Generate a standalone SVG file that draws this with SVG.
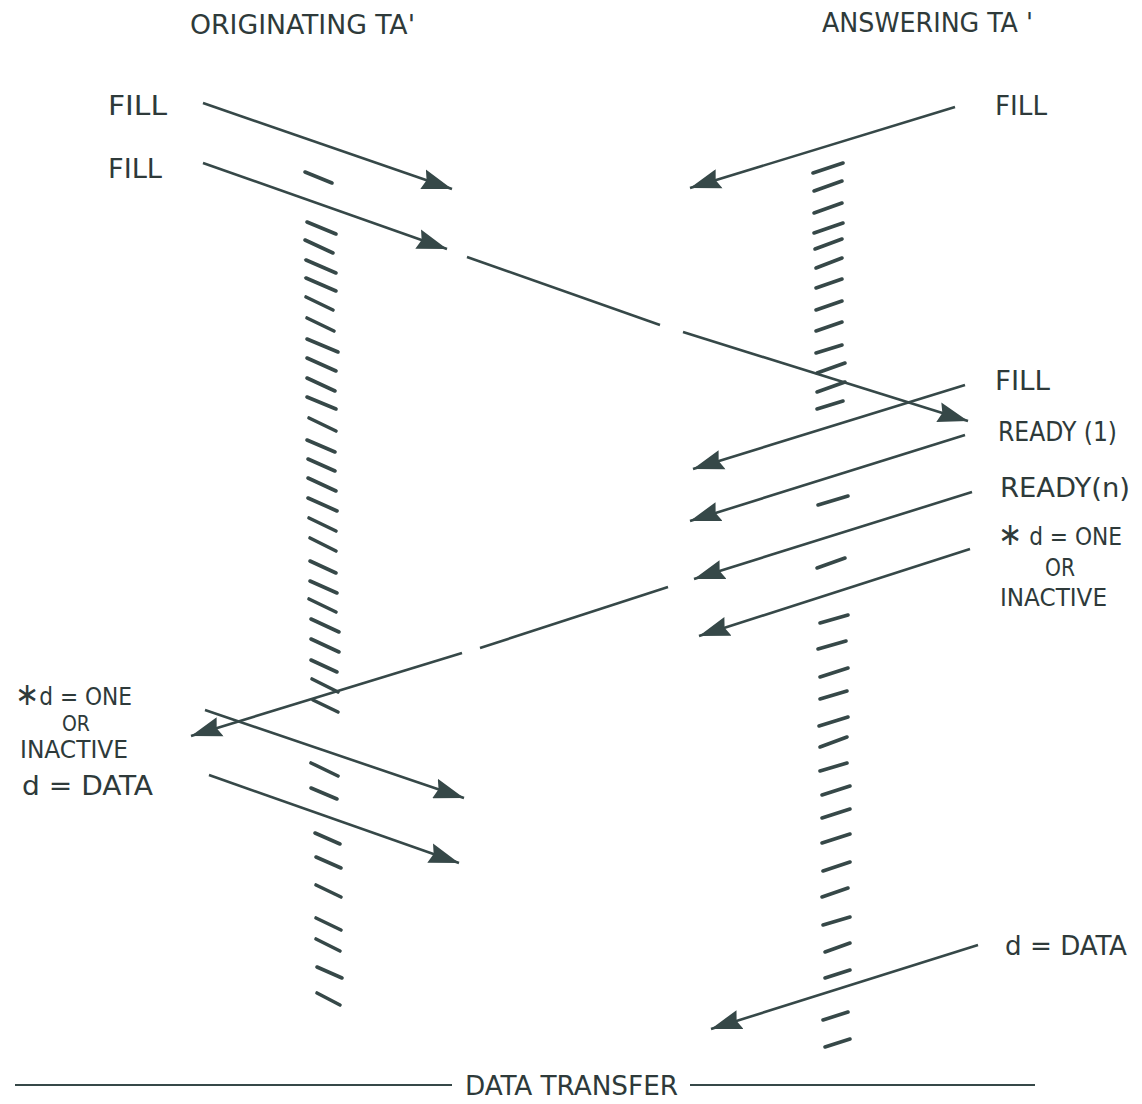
<svg xmlns="http://www.w3.org/2000/svg" width="1142" height="1104" viewBox="0 0 1142 1104">
  <style>
    .lbl { font-family: "DejaVu Sans Condensed", "Liberation Sans", sans-serif; font-size: 26px; fill: #2e3a3a; }
    .sm { font-size: 24px; }
    .xs { font-size: 21px; }
    .star { font-size: 32px; }
    .sig { stroke: #364848; stroke-width: 2.6; fill: none; marker-end: url(#head); }
    .seg { stroke: #364848; stroke-width: 2.6; fill: none; }
    .hatch line { stroke: #364848; stroke-width: 3.6; stroke-linecap: round; }
    .rule { stroke: #364848; stroke-width: 2; }
  </style>
  <defs>
    <marker id="head" viewBox="0 0 30 20" refX="30" refY="10" markerWidth="31" markerHeight="21" markerUnits="userSpaceOnUse" orient="auto">
      <path d="M0,0.5 L30,10 L1,20 L4,10 z" fill="#364848"/>
    </marker>
  </defs>

  <rect width="1142" height="1104" fill="#ffffff"/>

  <!-- column headings -->
  <g id="originating-ta">
    <text class="lbl" x="190" y="34" textLength="225" lengthAdjust="spacingAndGlyphs">ORIGINATING TA'</text>
  </g>
  <g id="answering-ta">
    <text class="lbl" x="822" y="32" textLength="211" lengthAdjust="spacingAndGlyphs">ANSWERING TA '</text>
  </g>

  <!-- hatched timeline of the originating TA -->
  <g id="originating-timeline" class="hatch">
    <line x1="305" y1="172" x2="332" y2="183"/>
    <line x1="307" y1="222" x2="336" y2="234"/>
    <line x1="305" y1="240" x2="333" y2="253"/>
    <line x1="306" y1="260" x2="336" y2="273"/>
    <line x1="306" y1="278" x2="336" y2="291"/>
    <line x1="306" y1="297" x2="333" y2="310"/>
    <line x1="307" y1="318" x2="334" y2="331"/>
    <line x1="307" y1="339" x2="338" y2="352"/>
    <line x1="307" y1="358" x2="336" y2="371"/>
    <line x1="307" y1="378" x2="335" y2="391"/>
    <line x1="307" y1="397" x2="336" y2="409"/>
    <line x1="309" y1="418" x2="336" y2="431"/>
    <line x1="307" y1="440" x2="335" y2="452"/>
    <line x1="308" y1="459" x2="335" y2="471"/>
    <line x1="308" y1="478" x2="336" y2="491"/>
    <line x1="308" y1="498" x2="337" y2="511"/>
    <line x1="309" y1="518" x2="336" y2="531"/>
    <line x1="310" y1="538" x2="336" y2="551"/>
    <line x1="310" y1="561" x2="336" y2="573"/>
    <line x1="310" y1="581" x2="337" y2="593"/>
    <line x1="309" y1="599" x2="336" y2="612"/>
    <line x1="311" y1="619" x2="339" y2="632"/>
    <line x1="311" y1="639" x2="339" y2="652"/>
    <line x1="311" y1="660" x2="337" y2="672"/>
    <line x1="312" y1="679" x2="338" y2="692"/>
    <line x1="313" y1="700" x2="338" y2="712"/>
    <line x1="311" y1="763" x2="338" y2="776"/>
    <line x1="311" y1="788" x2="337" y2="799"/>
    <line x1="315" y1="833" x2="340" y2="844"/>
    <line x1="316" y1="857" x2="341" y2="868"/>
    <line x1="316" y1="885" x2="341" y2="897"/>
    <line x1="316" y1="918" x2="341" y2="930"/>
    <line x1="316" y1="939" x2="340" y2="951"/>
    <line x1="317" y1="967" x2="342" y2="978"/>
    <line x1="317" y1="993" x2="340" y2="1005"/>
  </g>

  <!-- hatched timeline of the answering TA -->
  <g id="answering-timeline" class="hatch">
    <line x1="813" y1="173" x2="843" y2="163"/>
    <line x1="814" y1="191" x2="842" y2="181"/>
    <line x1="814" y1="213" x2="842" y2="203"/>
    <line x1="814" y1="233" x2="843" y2="223"/>
    <line x1="815" y1="249" x2="842" y2="239"/>
    <line x1="816" y1="268" x2="842" y2="258"/>
    <line x1="816" y1="288" x2="842" y2="279"/>
    <line x1="816" y1="310" x2="842" y2="301"/>
    <line x1="816" y1="331" x2="842" y2="322"/>
    <line x1="816" y1="353" x2="842" y2="345"/>
    <line x1="817" y1="373" x2="845" y2="363"/>
    <line x1="817" y1="392" x2="845" y2="382"/>
    <line x1="817" y1="409" x2="843" y2="401"/>
    <line x1="818" y1="505" x2="848" y2="496"/>
    <line x1="817" y1="568" x2="845" y2="558"/>
    <line x1="820" y1="623" x2="848" y2="615"/>
    <line x1="818" y1="649" x2="846" y2="641"/>
    <line x1="820" y1="677" x2="848" y2="668"/>
    <line x1="820" y1="699" x2="847" y2="691"/>
    <line x1="819" y1="726" x2="848" y2="717"/>
    <line x1="820" y1="747" x2="847" y2="737"/>
    <line x1="820" y1="771" x2="847" y2="763"/>
    <line x1="822" y1="795" x2="850" y2="786"/>
    <line x1="822" y1="818" x2="850" y2="809"/>
    <line x1="822" y1="843" x2="850" y2="834"/>
    <line x1="823" y1="871" x2="850" y2="862"/>
    <line x1="822" y1="897" x2="848" y2="888"/>
    <line x1="823" y1="925" x2="850" y2="917"/>
    <line x1="825" y1="952" x2="850" y2="943"/>
    <line x1="825" y1="978" x2="850" y2="970"/>
    <line x1="823" y1="1020" x2="848" y2="1012"/>
    <line x1="825" y1="1047" x2="850" y2="1039"/>
  </g>

  <!-- signal labels, originating side -->
  <g id="orig-fill-1"><text class="lbl" x="108" y="115" textLength="59" lengthAdjust="spacingAndGlyphs">FILL</text></g>
  <g id="orig-fill-2"><text class="lbl" x="108" y="178" textLength="54" lengthAdjust="spacingAndGlyphs">FILL</text></g>
  <g id="orig-one-inactive">
    <text class="lbl sm" x="15" y="705" textLength="117" lengthAdjust="spacingAndGlyphs"><tspan class="star">∗</tspan>d = ONE</text>
    <text class="lbl xs" x="62" y="731" textLength="28" lengthAdjust="spacingAndGlyphs">OR</text>
    <text class="lbl sm" x="20" y="758" textLength="108" lengthAdjust="spacingAndGlyphs">INACTIVE</text>
  </g>
  <g id="orig-data"><text class="lbl" x="22" y="795" textLength="131" lengthAdjust="spacingAndGlyphs">d = DATA</text></g>

  <!-- signal labels, answering side -->
  <g id="ans-fill-1"><text class="lbl" x="995" y="115" textLength="52" lengthAdjust="spacingAndGlyphs">FILL</text></g>
  <g id="ans-fill-2"><text class="lbl" x="995" y="390" textLength="55" lengthAdjust="spacingAndGlyphs">FILL</text></g>
  <g id="ans-ready-1"><text class="lbl" x="998" y="441" textLength="119" lengthAdjust="spacingAndGlyphs">READY (1)</text></g>
  <g id="ans-ready-n"><text class="lbl" x="1000" y="497" textLength="130" lengthAdjust="spacingAndGlyphs">READY(n)</text></g>
  <g id="ans-one-inactive">
    <text class="lbl sm" x="998" y="545" textLength="124" lengthAdjust="spacingAndGlyphs"><tspan class="star">∗</tspan> d = ONE</text>
    <text class="lbl sm" x="1045" y="576" textLength="30" lengthAdjust="spacingAndGlyphs">OR</text>
    <text class="lbl sm" x="1000" y="606" textLength="107" lengthAdjust="spacingAndGlyphs">INACTIVE</text>
  </g>
  <g id="ans-data"><text class="lbl" x="1005" y="955" textLength="122" lengthAdjust="spacingAndGlyphs">d = DATA</text></g>

  <!-- signal arrows between the two TAs -->
  <g id="connectors">
    <line class="sig" x1="203" y1="103" x2="452" y2="189"/>
    <line class="sig" x1="203" y1="163" x2="447" y2="249"/>
    <line class="seg" x1="467" y1="257" x2="660" y2="325"/>
    <line class="sig" x1="683" y1="332" x2="968" y2="421"/>
    <line class="sig" x1="955" y1="107" x2="690" y2="188"/>
    <line class="sig" x1="965" y1="385" x2="693" y2="469"/>
    <line class="sig" x1="965" y1="435" x2="690" y2="521"/>
    <line class="sig" x1="972" y1="492" x2="694" y2="579"/>
    <line class="seg" x1="668" y1="587" x2="480" y2="648"/>
    <line class="sig" x1="462" y1="653" x2="191" y2="736"/>
    <line class="sig" x1="970" y1="549" x2="699" y2="636"/>
    <line class="sig" x1="205" y1="710" x2="464" y2="798"/>
    <line class="sig" x1="209" y1="775" x2="459" y2="863"/>
    <line class="sig" x1="978" y1="945" x2="711" y2="1029"/>
  </g>

  <!-- data transfer phase marker -->
  <g id="data-transfer">
    <line class="rule" x1="15" y1="1085" x2="452" y2="1085"/>
    <text class="lbl" x="465" y="1095" textLength="213" lengthAdjust="spacingAndGlyphs">DATA TRANSFER</text>
    <line class="rule" x1="690" y1="1085" x2="1035" y2="1085"/>
  </g>
</svg>
